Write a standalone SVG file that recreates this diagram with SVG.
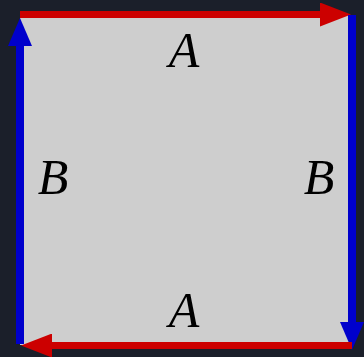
<svg xmlns="http://www.w3.org/2000/svg" width="364" height="357" viewBox="0 0 364 357">
  <style>
    .bg { fill: #1b1f2a; }
    .sq { fill: #cecece; stroke: none; }
    .red { stroke: #cc0000; stroke-width: 7; fill: none; }
    .blue { stroke: #0000cc; stroke-width: 8; fill: none; }
    .lbl { font-family: "Liberation Serif", "Times New Roman", serif; font-style: italic; font-size: 50px; fill: #000; text-anchor: middle; }
  </style>
  <defs>
    <marker id="arrRed" markerUnits="userSpaceOnUse" markerWidth="31" markerHeight="24" refX="0" refY="12" orient="auto" viewBox="0 0 31 24">
      <path d="M0,0 L31,12 L0,24 z" fill="#cc0000"/>
    </marker>
    <marker id="arrBlue" markerUnits="userSpaceOnUse" markerWidth="28" markerHeight="24" refX="0" refY="12" orient="auto" viewBox="0 0 28 24">
      <path d="M0,0 L28,12 L0,24 z" fill="#0000cc"/>
    </marker>
  </defs>
  <rect class="bg" x="0" y="0" width="364" height="357"/>
  <g id="square">
    <rect class="sq" x="20" y="15" width="332" height="330"/>
  </g>
  <g id="connectors">
    <line class="red" x1="20" y1="14.5" x2="320" y2="14.5" marker-end="url(#arrRed)"/>
    <line class="blue" x1="352" y1="15" x2="352" y2="322" marker-end="url(#arrBlue)"/>
    <line class="red" x1="352" y1="345.5" x2="52" y2="345.5" marker-end="url(#arrRed)"/>
    <line class="blue" x1="20" y1="344" x2="20" y2="46" marker-end="url(#arrBlue)"/>
  </g>
  <g id="labels">
    <text class="lbl" x="184" y="67">A</text>
    <text class="lbl" x="319" y="194">B</text>
    <text class="lbl" x="184" y="327">A</text>
    <text class="lbl" x="53" y="194">B</text>
  </g>
</svg>
